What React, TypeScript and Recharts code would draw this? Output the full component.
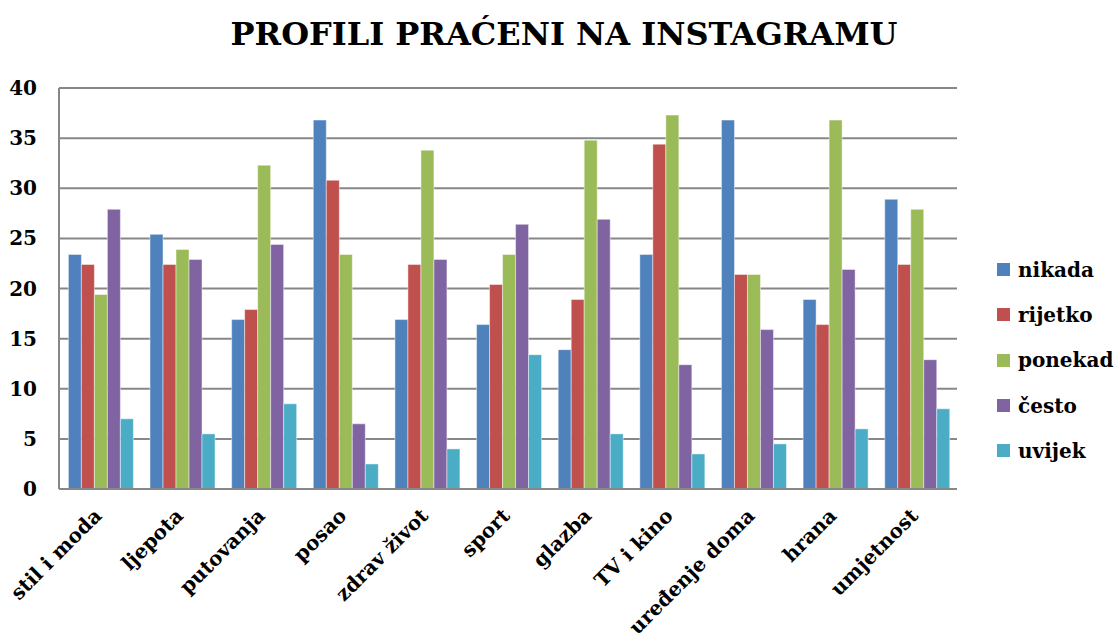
import React from 'react';
import { BarChart, Bar, XAxis, YAxis, CartesianGrid, Legend } from 'recharts';

// Profili praćeni na Instagramu — grouped bars, Excel-like palette.

const categories = [
  'stil i moda',
  'ljepota',
  'putovanja',
  'posao',
  'zdrav život',
  'sport',
  'glazba',
  'TV i kino',
  'uređenje doma',
  'hrana',
  'umjetnost',
];

const nikada = [23.4, 25.4, 16.9, 36.8, 16.9, 16.4, 13.9, 23.4, 36.8, 18.9, 28.9];
const rijetko = [22.4, 22.4, 17.9, 30.8, 22.4, 20.4, 18.9, 34.4, 21.4, 16.4, 22.4];
const ponekad = [19.4, 23.9, 32.3, 23.4, 33.8, 23.4, 34.8, 37.3, 21.4, 36.8, 27.9];
const cesto = [27.9, 22.9, 24.4, 6.5, 22.9, 26.4, 26.9, 12.4, 15.9, 21.9, 12.9];
const uvijek = [7.0, 5.5, 8.5, 2.5, 4.0, 13.4, 5.5, 3.5, 4.5, 6.0, 8.0];

const yTicks = [0, 5, 10, 15, 20, 25, 30, 35, 40];

const series = [
  { key: 'nikada', values: nikada, color: '#4F81BD' },
  { key: 'rijetko', values: rijetko, color: '#C0504D' },
  { key: 'ponekad', values: ponekad, color: '#9BBB59' },
  { key: 'često', values: cesto, color: '#8064A2' },
  { key: 'uvijek', values: uvijek, color: '#4BACC6' },
];

const data = categories.map((c, i) => {
  const row: Record<string, string | number> = { name: c };
  series.forEach((s) => {
    row[s.key] = s.values[i];
  });
  return row;
});

// the only serif face that resolves here
const FONT = '"DejaVu Serif", serif';
const GRID = '#878787';

const XTick = (props: any) => {
  const { x, y, payload } = props;
  return (
    <g transform={`translate(${x + 3},${y + 20})`}>
      <text
        transform="rotate(-45)"
        textAnchor="end"
        style={{ fontFamily: FONT, fontWeight: 'bold', fontSize: 20 }}
        fill="#000000"
      >
        {payload.value}
      </text>
    </g>
  );
};

const YTick = (props: any) => {
  const { x, y, payload } = props;
  return (
    <text
      x={x}
      y={y}
      dy={7}
      textAnchor="end"
      style={{ fontFamily: FONT, fontWeight: 'bold', fontSize: 20 }}
      fill="#000000"
    >
      {payload.value}
    </text>
  );
};

const LegendBox = () => (
  <div style={{ fontFamily: FONT, fontWeight: 'bold', fontSize: 20, color: '#000' }}>
    {series.map((s) => (
      <div key={s.key} style={{ display: 'flex', alignItems: 'center', height: 45.3 }}>
        <span
          style={{
            display: 'inline-block',
            width: 13,
            height: 13,
            background: s.color,
            marginRight: 8,
          }}
        />
        <span>{s.key}</span>
      </div>
    ))}
  </div>
);

export default function App() {
  return (
    <div
      style={{
        position: 'relative',
        width: 1118,
        height: 640,
        background: '#fff',
        fontFamily: FONT,
      }}
    >
      <style>{'body{margin:0}'}</style>
      <div
        style={{
          position: 'absolute',
          top: 15,
          left: 0,
          width: 1128,
          textAlign: 'center',
          fontFamily: FONT,
          fontWeight: 'bold',
          fontSize: 32,
          color: '#000',
          zIndex: 2,
        }}
      >
        PROFILI PRAĆENI NA INSTAGRAMU
      </div>
      <BarChart
        width={1118}
        height={640}
        data={data}
        margin={{ top: 88, right: 31, left: 9, bottom: 11 }}
        barGap={0}
        barCategoryGap="11.5%"
      >
        <CartesianGrid vertical={false} stroke={GRID} strokeWidth={2} />
        <XAxis
          dataKey="name"
          height={140}
          interval={0}
          tickLine={false}
          axisLine={{ stroke: GRID, strokeWidth: 2 }}
          tick={<XTick />}
        />
        <YAxis
          width={50}
          domain={[0, 40]}
          ticks={yTicks}
          tickLine={false}
          tickMargin={16}
          axisLine={{ stroke: GRID, strokeWidth: 2 }}
          tick={<YTick />}
        />
        <Legend
          layout="vertical"
          align="right"
          verticalAlign="top"
          content={<LegendBox />}
          wrapperStyle={{ position: 'absolute', left: 997, top: 247, width: 130 }}
        />
        {series.map((s) => (
          <Bar
            key={s.key}
            dataKey={s.key}
            fill={s.color}
            stroke="#ffffff"
            strokeOpacity={0.45}
            strokeWidth={1}
            isAnimationActive={false}
          />
        ))}
      </BarChart>
    </div>
  );
}
